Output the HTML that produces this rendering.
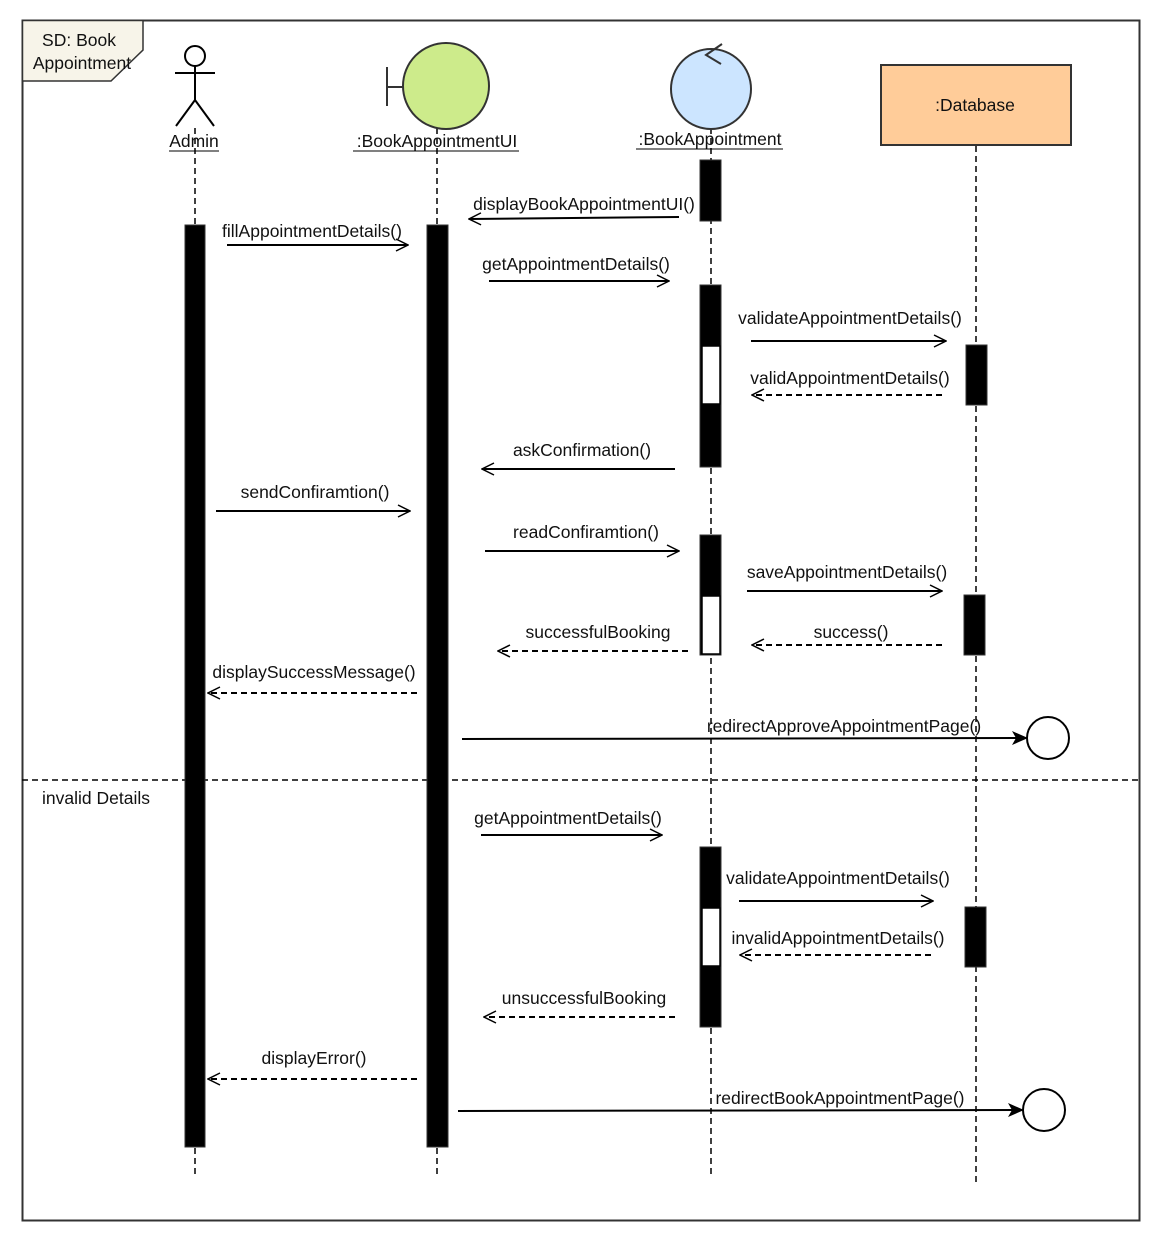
<!DOCTYPE html>
<html><head><meta charset="utf-8"><style>
html,body{margin:0;padding:0;background:#fff;}
svg{display:block;}
text{font-family:"Liberation Sans",sans-serif;font-size:17.5px;fill:#111;}
</style></head><body>
<svg width="1164" height="1242" viewBox="0 0 1164 1242" xmlns="http://www.w3.org/2000/svg">
<defs>
<marker id="o" markerWidth="14" markerHeight="14" refX="13" refY="7" orient="auto" markerUnits="userSpaceOnUse"><path d="M1,1 L13,7 L1,13" fill="none" stroke="#000" stroke-width="1.5"/></marker>
<marker id="f" markerWidth="16" markerHeight="14" refX="15" refY="7" orient="auto" markerUnits="userSpaceOnUse"><path d="M0,0 L16,7 L0,14 L4,7 Z" fill="#000"/></marker>
</defs>
<rect x="22.5" y="20.5" width="1117" height="1200" fill="#fff" stroke="#333" stroke-width="2"/>
<path d="M22.5,20.5 H143 V50 L111,81 H22.5 Z" fill="#f7f4e9" stroke="#333" stroke-width="1.5"/>
<text x="79" y="46" text-anchor="middle">SD: Book</text>
<text x="82" y="69" text-anchor="middle">Appointment</text>
<g stroke="#000" stroke-width="1.5" stroke-dasharray="6,4" fill="none">
<line x1="195" y1="128" x2="195" y2="1178"/>
<line x1="437" y1="128" x2="437" y2="1178"/>
<line x1="711" y1="128" x2="711" y2="1178"/>
<line x1="976" y1="146" x2="976" y2="1182"/>
<line x1="22" y1="780" x2="1140" y2="780"/>
</g>
<g stroke="#000" stroke-width="2" fill="none">
<circle cx="195" cy="56" r="10" fill="#fff"/>
<line x1="195" y1="66" x2="195" y2="100"/>
<line x1="175" y1="73" x2="215" y2="73"/>
<line x1="195" y1="100" x2="176" y2="126"/>
<line x1="195" y1="100" x2="214" y2="126"/>
</g>
<text x="194" y="147" text-anchor="middle">Admin</text><line x1="169" y1="151" x2="219" y2="151" stroke="#000"/>
<g stroke="#333" stroke-width="2">
<line x1="387" y1="67" x2="387" y2="106"/><line x1="387" y1="87" x2="403" y2="87"/>
<circle cx="446" cy="86" r="43" fill="#cdeb8b"/>
</g>
<text x="437" y="147" text-anchor="middle">:BookAppointmentUI</text><line x1="353" y1="151" x2="519" y2="151" stroke="#000"/>
<circle cx="711" cy="89" r="40" fill="#cce5ff" stroke="#333" stroke-width="2"/>
<path d="M722,44 L706,55 L721,64" fill="none" stroke="#333" stroke-width="2"/>
<text x="710" y="145" text-anchor="middle">:BookAppointment</text><line x1="636" y1="149" x2="783" y2="149" stroke="#000"/>
<rect x="881" y="65" width="190" height="80" fill="#ffcc99" stroke="#333" stroke-width="2"/>
<text x="975" y="111" text-anchor="middle">:Database</text>
<g fill="#000" stroke="#333" stroke-width="1">
<rect x="185" y="225" width="20" height="922"/>
<rect x="427" y="225" width="21" height="922"/>
<rect x="700" y="160" width="21" height="61"/>
<rect x="700" y="285" width="21" height="182"/>
<rect x="700" y="535" width="21" height="120"/>
<rect x="700" y="847" width="21" height="180"/>
<rect x="966" y="345" width="21" height="60"/>
<rect x="964" y="595" width="21" height="60"/>
<rect x="965" y="907" width="21" height="60"/>
</g>
<g fill="#fff" stroke="#000" stroke-width="1.5">
<rect x="702" y="346" width="18" height="58"/>
<rect x="702" y="596" width="18" height="58"/>
<rect x="702" y="908" width="18" height="58"/>
</g>
<g stroke="#000" stroke-width="2" fill="none">
<line x1="679" y1="217" x2="469" y2="219" marker-end="url(#o)"/>
<line x1="227" y1="245" x2="408" y2="245" marker-end="url(#o)"/>
<line x1="489" y1="281" x2="669" y2="281" marker-end="url(#o)"/>
<line x1="751" y1="341" x2="946" y2="341" marker-end="url(#o)"/>
<line x1="942" y1="395" x2="752" y2="395" stroke-dasharray="6,4" marker-end="url(#o)"/>
<line x1="675" y1="469" x2="482" y2="469" marker-end="url(#o)"/>
<line x1="216" y1="511" x2="410" y2="511" marker-end="url(#o)"/>
<line x1="485" y1="551" x2="679" y2="551" marker-end="url(#o)"/>
<line x1="747" y1="591" x2="942" y2="591" marker-end="url(#o)"/>
<line x1="688" y1="651" x2="498" y2="651" stroke-dasharray="6,4" marker-end="url(#o)"/>
<line x1="942" y1="645" x2="752" y2="645" stroke-dasharray="6,4" marker-end="url(#o)"/>
<line x1="417" y1="693" x2="208" y2="693" stroke-dasharray="6,4" marker-end="url(#o)"/>
<line x1="462" y1="739" x2="1027" y2="738" marker-end="url(#f)"/>
<line x1="481" y1="835" x2="662" y2="835" marker-end="url(#o)"/>
<line x1="739" y1="901" x2="933" y2="901" marker-end="url(#o)"/>
<line x1="931" y1="955" x2="740" y2="955" stroke-dasharray="6,4" marker-end="url(#o)"/>
<line x1="675" y1="1017" x2="484" y2="1017" stroke-dasharray="6,4" marker-end="url(#o)"/>
<line x1="417" y1="1079" x2="208" y2="1079" stroke-dasharray="6,4" marker-end="url(#o)"/>
<line x1="458" y1="1111" x2="1023" y2="1110" marker-end="url(#f)"/>
<circle cx="1048" cy="738" r="21" fill="#fff"/>
<circle cx="1044" cy="1110" r="21" fill="#fff"/>
</g>
<g text-anchor="middle">
<text x="584" y="210">displayBookAppointmentUI()</text>
<text x="312" y="237">fillAppointmentDetails()</text>
<text x="576" y="270">getAppointmentDetails()</text>
<text x="850" y="324">validateAppointmentDetails()</text>
<text x="850" y="384">validAppointmentDetails()</text>
<text x="582" y="456">askConfirmation()</text>
<text x="315" y="498">sendConfiramtion()</text>
<text x="586" y="538">readConfiramtion()</text>
<text x="847" y="578">saveAppointmentDetails()</text>
<text x="598" y="638">successfulBooking</text>
<text x="851" y="638">success()</text>
<text x="314" y="678">displaySuccessMessage()</text>
<text x="844" y="732">redirectApproveAppointmentPage()</text>
<text x="568" y="824">getAppointmentDetails()</text>
<text x="838" y="884">validateAppointmentDetails()</text>
<text x="838" y="944">invalidAppointmentDetails()</text>
<text x="584" y="1004">unsuccessfulBooking</text>
<text x="314" y="1064">displayError()</text>
<text x="840" y="1104">redirectBookAppointmentPage()</text>
</g>
<text x="42" y="804">invalid Details</text>
</svg>
</body></html>
